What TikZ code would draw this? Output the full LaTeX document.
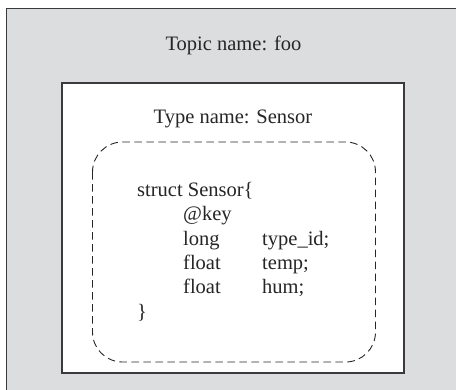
\documentclass[tikz,border=0pt]{standalone}
\usepackage{fontspec}
\setmainfont{Liberation Serif}
\definecolor{panelgray}{HTML}{DCDDDF}
\definecolor{framegray}{HTML}{3A3A3C}
\begin{document}
\begin{tikzpicture}[x=1pt,y=-1pt,
  frame/.style={draw=framegray,line width=1.4pt},
  keybox/.style={draw=black!85,line width=0.9pt,dash pattern=on 7.5pt off 4.5pt,rounded corners=30pt},
  label/.style={inner sep=0pt,anchor=base,font=\fontsize{20.5}{24}\selectfont,text=black!85},
  code/.style={inner sep=0pt,anchor=base west,font=\fontsize{20.5}{24}\selectfont,text=black!85}]
  \clip (0,0) rectangle (456,389);
  % outer topic panel, running off the page at right and bottom
  \draw[frame,fill=panelgray] (6.5,8.5) rectangle (470,400);
  \node[label] (topic) at (233.5,50) {Topic name: foo};
  % inner type panel
  \draw[frame,fill=white] (62,83) rectangle (404,373);
  \node[label] (typename) at (233,123) {Type name: Sensor};
  % dashed struct outline
  \draw[keybox] (92.5,142) rectangle (375.5,362);
  % struct definition
  \node[code] (s0) at (137,196.5) {struct Sensor\{};
  \node[code] (s1) at (183,220.8) {@key};
  \node[code] (s2) at (183,245) {long};
  \node[code] (s2b) at (262,245) {type\_id;};
  \node[code] (s3) at (183,269.3) {float};
  \node[code] (s3b) at (262,269.3) {temp;};
  \node[code] (s4) at (183,293.6) {float};
  \node[code] (s4b) at (262,293.6) {hum;};
  \node[code] (s5) at (137,318) {\}};
\end{tikzpicture}
\end{document}
